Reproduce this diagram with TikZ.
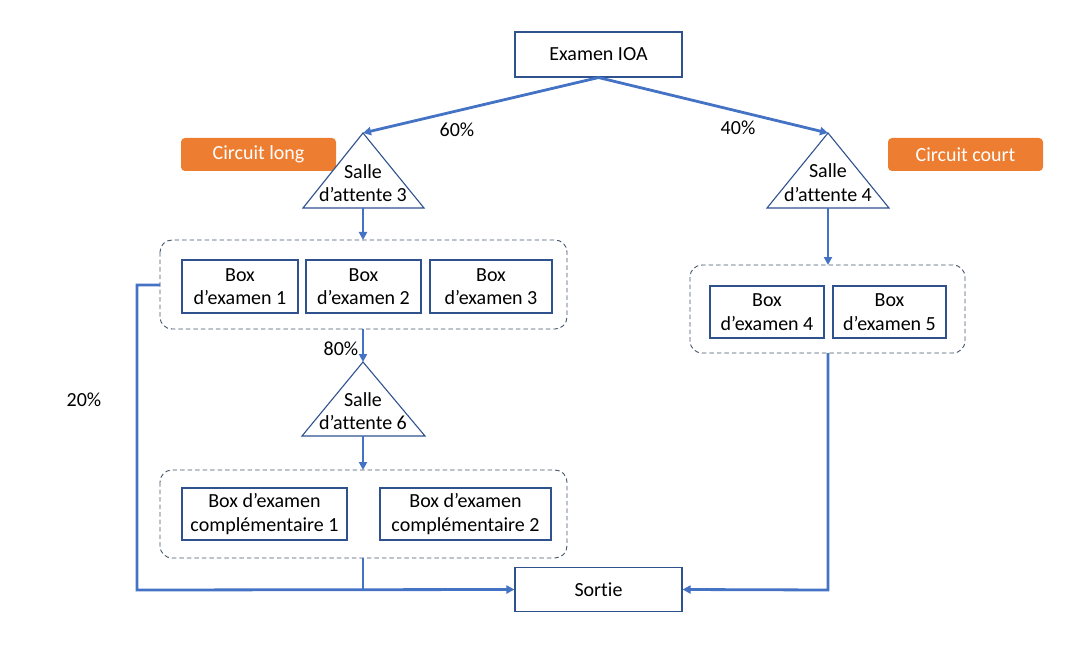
\documentclass[tikz,border=0pt]{standalone}
\usepackage{fontspec}
\setmainfont{Carlito}[Ligatures={NoCommon}]
\usetikzlibrary{arrows.meta,calc}
\definecolor{flow}{HTML}{4472C4}
\definecolor{boxline}{HTML}{2F528F}
\definecolor{grp}{HTML}{44546A}
\definecolor{tag}{HTML}{ED7D31}
\begin{document}
\begin{tikzpicture}[x=1pt,y=-1pt,
  every node/.style={font=\fontsize{20}{23.5}\selectfont, inner sep=0pt},
  box/.style={draw=boxline, line width=1.1pt, fill=white, align=center},
  grpbox/.style={draw=grp, dash pattern=on 4.5pt off 3pt, line width=0.9pt, rounded corners=12pt},
  tagbox/.style={fill=tag, rounded corners=4pt, text=white, align=center},
  tri/.style={draw=boxline, line width=1.1pt, fill=white},
  flowline/.style={draw=flow, line width=2.8pt},
  flowarr/.style={flowline, -{Triangle[length=8pt,width=8pt]}},
  lbl/.style={text=black}
]
\useasboundingbox (0,0) rectangle (1072,658);

% top and bottom boxes
\node[box, minimum width=167pt, minimum height=45pt] (ioa) at (598.5,54.5) {Examen IOA};
\node[box, minimum width=167pt, minimum height=44pt] (sortie) at (598.5,589.5) {Sortie};

% orange tags
\node[tagbox, minimum width=155pt, minimum height=33pt] (tlong) at (258.5,154.5) {Circuit long};
\node[tagbox, minimum width=155pt, minimum height=33pt] (tcourt) at (965.5,154.5) {Circuit court};

% triangles
\coordinate (t3a) at (363,133);
\coordinate (t3b) at (363,208);
\draw[tri] (t3a) -- (424,208) -- (303,208) -- cycle;
\node[align=center] (t3) at (363,183) {Salle\\d’attente 3};

\coordinate (t4a) at (828,133);
\coordinate (t4b) at (828,208);
\draw[tri] (t4a) -- (889,208) -- (767,208) -- cycle;
\node[align=center] (t4) at (828,182.5) {Salle\\d’attente 4};

\coordinate (t6a) at (363,362);
\coordinate (t6b) at (363,436);
\draw[tri] (t6a) -- (425,436) -- (302,436) -- cycle;
\node[align=center] (t6) at (363,411) {Salle\\d’attente 6};

% group 1
\draw[grpbox] (160,240) rectangle (567,329);
\coordinate (g1t) at (363,240);
\coordinate (g1b) at (363,329);
\coordinate (g1l) at (160,285);
\node[box, minimum width=116pt, minimum height=53pt] (b1) at (240,286.5) {Box\\d’examen 1};
\node[box, minimum width=115pt, minimum height=53pt] (b2) at (363.5,286.5) {Box\\d’examen 2};
\node[box, minimum width=122pt, minimum height=53pt] (b3) at (491,286.5) {Box\\d’examen 3};

% group 2
\draw[grpbox] (690,265) rectangle (965,353);
\coordinate (g2t) at (828,265);
\coordinate (g2b) at (828,353);
\node[box, minimum width=114pt, minimum height=52pt] (b4) at (767,312) {Box\\d’examen 4};
\node[box, minimum width=113pt, minimum height=52pt] (b5) at (889.5,312) {Box\\d’examen 5};

% group 3
\draw[grpbox] (160,470) rectangle (567,558);
\coordinate (g3t) at (363,470);
\coordinate (g3b) at (363,558);
\node[box, minimum width=165pt, minimum height=52pt] (c1) at (264.5,514) {Box d’examen\\complémentaire 1};
\node[box, minimum width=171pt, minimum height=52pt] (c2) at (465.5,514) {Box d’examen\\complémentaire 2};

% connectors
\draw[flowarr] (ioa.south) -- (t3a);
\draw[flowarr] (ioa.south) -- (t4a);
\draw[flowarr] (t3b) -- (g1t);
\draw[flowarr] (g1b) -- (t6a);
\draw[flowarr] (t6b) -- (g3t);
\draw[flowarr] (t4b) -- (g2t);
\coordinate (j1) at (363,590);
\draw[flowline] (g3b) -- (j1);
\draw[flowarr] (g1l) -- (137,285) -- (137,590) -- (sortie.west);
\draw[flowarr] (g2b) -- (828,590) -- (sortie.east);

% labels
\node[lbl] (p60) at (457,130) {60\%};
\node[lbl] (p40) at (738,128) {40\%};
\node[lbl] (p80) at (341,349) {80\%};
\node[lbl] (p20) at (84,400) {20\%};
\end{tikzpicture}
\end{document}
